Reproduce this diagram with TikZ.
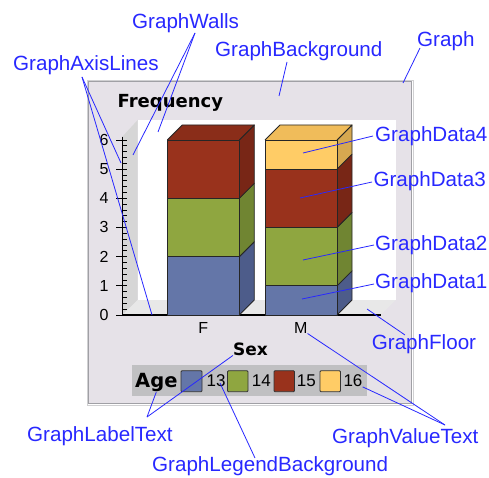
\documentclass[tikz,border=0pt]{standalone}
\usepackage{fontspec}
\setmainfont{Liberation Sans}
\newfontfamily\boldwide{DejaVu Sans}
\definecolor{annblue}{RGB}{40,40,255}
\definecolor{framefill}{RGB}{230,226,232}
\definecolor{frameline}{RGB}{160,160,165}
\definecolor{legbg}{RGB}{192,192,194}
\definecolor{wallgray}{RGB}{214,214,214}
\definecolor{floorgray}{RGB}{232,232,232}
\definecolor{bluef}{RGB}{100,118,168}
\definecolor{blues}{RGB}{77,92,138}
\definecolor{greenf}{RGB}{143,166,64}
\definecolor{greens}{RGB}{112,133,50}
\definecolor{redf}{RGB}{153,50,28}
\definecolor{reds}{RGB}{120,38,22}
\definecolor{redt}{RGB}{138,45,25}
\definecolor{yelf}{RGB}{255,204,102}
\definecolor{yels}{RGB}{214,168,80}
\definecolor{yelt}{RGB}{240,188,90}
\tikzset{
  ann/.style={anchor=base west, inner sep=0pt, text=annblue, font=\fontsize{20.6}{25}\selectfont},
  annline/.style={draw=annblue, line width=0.8pt},
  seg/.style={draw=black!85, line width=0.8pt, line join=round},
  ticklab/.style={inner sep=0pt, font=\fontsize{16}{19}\selectfont},
  boldlab/.style={inner sep=0pt, font=\boldwide\bfseries\fontsize{17}{20}\selectfont},
  swatch/.style={draw=black!80, line width=0.8pt, rounded corners=1pt},
  legnum/.style={anchor=base west, inner sep=0pt, font=\fontsize{17}{20}\selectfont}
}
% #1 x-left, #2 x-right, #3 from value, #4 to value, #5 front, #6 side, #7 top colour or n
\newcommand\barseg[7]{%
  \pgfmathsetmacro\yb{315-29.17*#3}%
  \pgfmathsetmacro\yt{315-29.17*#4}%
  \fill[#5] (#1,\yb) rectangle (#2,\yt);
  \fill[#6] (#2,\yb) -- ({#2+15},{\yb-15}) -- ({#2+15},{\yt-15}) -- (#2,\yt) -- cycle;
  \draw[seg] (#1,\yb) rectangle (#2,\yt);
  \draw[seg] (#2,\yb) -- ({#2+15},{\yb-15}) -- ({#2+15},{\yt-15}) -- (#2,\yt);
  \ifx#7n\else
    \fill[#7] (#1,\yt) -- ({#1+15},{\yt-15}) -- ({#2+15},{\yt-15}) -- (#2,\yt) -- cycle;
    \draw[seg] (#1,\yt) -- ({#1+15},{\yt-15}) -- ({#2+15},{\yt-15}) -- (#2,\yt);
  \fi
}
\begin{document}
\begin{tikzpicture}[x=1pt,y=-1pt]
\useasboundingbox (0,0) rectangle (489,478);
\fill[white] (0,0) rectangle (489,478);
% graph frame
\draw[frameline!50, line width=1pt] (87,81) rectangle (413,405);
\draw[fill=framefill, draw=frameline, line width=1pt] (88,82) rectangle (411.5,403.5);
% title
\node[boldlab, anchor=base west, font=\boldwide\bfseries\fontsize{18}{21}\selectfont] (freq) at (117.5,107.3) {Frequency};
% walls and floor
\fill[white] (137.7,120) rectangle (395.7,300);
\fill[wallgray] (122.3,136.7) -- (137.7,120) -- (137.7,300) -- (122.3,315) -- cycle;
\fill[floorgray] (122.3,315) -- (137.7,300) -- (395.7,300) -- (380.7,315) -- cycle;
% y ticks
\foreach \k in {0,...,30} {
  \pgfmathsetmacro\ty{315-29.17*\k/5}
  \draw[black, line width=0.7pt] (122.3,\ty) -- (126.5,\ty);
}
\foreach \v in {0,...,6} {
  \pgfmathsetmacro\ty{315-29.17*\v}
  \draw[black, line width=0.8pt] (116,\ty) -- (126.5,\ty);
  \node[ticklab] (yl\v) at (104,\ty) {\v};
}
% axis lines
\draw[black, line width=1.2pt] (122.3,136.7) -- (122.3,315) -- (381,315);
% bars
\barseg{167.3}{239.3}{0}{2}{bluef}{blues}{n}
\barseg{167.3}{239.3}{2}{4}{greenf}{greens}{n}
\barseg{167.3}{239.3}{4}{6}{redf}{reds}{redt}
\barseg{265}{337}{0}{1}{bluef}{blues}{n}
\barseg{265}{337}{1}{3}{greenf}{greens}{n}
\barseg{265}{337}{3}{5}{redf}{reds}{n}
\barseg{265}{337}{5}{6}{yelf}{yels}{yelt}
% x labels
\node[ticklab, anchor=base] (xF) at (203.3,333.3) {F};
\node[ticklab, anchor=base] (xM) at (300.7,333.3) {M};
\node[boldlab, anchor=base] (sex) at (250.5,355) {Sex};
% legend
\fill[legbg] (131.7,365) rectangle (366.7,395.5);
\node[anchor=base west, inner sep=0pt, font=\boldwide\bfseries\fontsize{19.5}{23}\selectfont] (age) at (135,387.5) {Age};
\draw[swatch, fill=bluef] (181,370.7) rectangle (202,391.7);
\node[legnum] (l13) at (206.5,386.5) {13};
\draw[swatch, fill=greenf] (227.5,370.7) rectangle (248,391.7);
\node[legnum] (l14) at (251.7,386.5) {14};
\draw[swatch, fill=redf] (274,370.7) rectangle (294.5,391.7);
\node[legnum] (l15) at (296.7,386.5) {15};
\draw[swatch, fill=yelf] (320,370.7) rectangle (340.5,391.7);
\node[legnum] (l16) at (343.3,386.5) {16};
% annotation labels
\node[ann] (nWalls) at (132,28.3) {GraphWalls};
\node[ann] (nBack) at (215,56.7) {GraphBackground};
\node[ann] (nGraph) at (417,46.7) {Graph};
\node[ann] (nAxis) at (13,71) {GraphAxisLines};
\node[ann] (nD4) at (375,141.7) {GraphData4};
\node[ann] (nD3) at (373.3,186.7) {GraphData3};
\node[ann] (nD2) at (375,250) {GraphData2};
\node[ann] (nD1) at (375,288.3) {GraphData1};
\node[ann] (nFloor) at (371.7,349.5) {GraphFloor};
\node[ann] (nLabel) at (27,441.7) {GraphLabelText};
\node[ann] (nLegend) at (152,471.7) {GraphLegendBackground};
\node[ann] (nValue) at (332,443.3) {GraphValueText};
% annotation endpoints
\coordinate (sWalls) at (195,33);
\coordinate (tWallL) at (133,155);
\coordinate (tWallB) at (158,132);
\coordinate (sBack) at (287,62);
\coordinate (tBack) at (279,96);
\coordinate (sGraph) at (420,48);
\coordinate (tGraph) at (403,83);
\coordinate (sAxis) at (82,77);
\coordinate (tAxisY) at (121,163);
\coordinate (tAxisX) at (152,315);
\coordinate (sD4) at (373,136);
\coordinate (tD4) at (303,153);
\coordinate (sD3) at (372,182);
\coordinate (tD3) at (300,198);
\coordinate (sD2) at (374,245);
\coordinate (tD2) at (303,260);
\coordinate (sD1) at (374,284);
\coordinate (tD1) at (302,299);
\coordinate (sFloor) at (405,335);
\coordinate (tFloor) at (367,309);
\coordinate (sLabel) at (147,417);
\coordinate (sLegend) at (255,458);
\coordinate (tLegend) at (220,383);
\coordinate (sValue) at (445,425);
% annotation lines
\draw[annline] (sWalls) -- (tWallL);
\draw[annline] (sWalls) -- (tWallB);
\draw[annline] (sBack) -- (tBack);
\draw[annline] (sGraph) -- (tGraph);
\draw[annline] (sAxis) -- (tAxisY);
\draw[annline] (sAxis) -- (tAxisX);
\draw[annline] (sD4) -- (tD4);
\draw[annline] (sD3) -- (tD3);
\draw[annline] (sD2) -- (tD2);
\draw[annline] (sD1) -- (tD1);
\draw[annline] (sFloor) -- (tFloor);
\draw[annline] (sLabel) -- (age.south);
\draw[annline] (sLabel) -- (sex.south west);
\draw[annline] (sLegend) -- (tLegend);
\draw[annline] (sValue) -- (xM.south east);
\draw[annline] (sValue) -- (l16.south east);
\end{tikzpicture}
\end{document}
